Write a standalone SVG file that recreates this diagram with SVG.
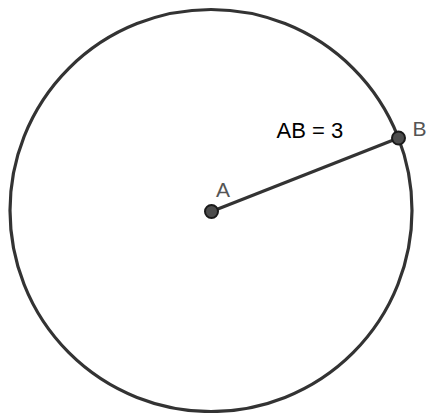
<svg xmlns="http://www.w3.org/2000/svg" width="428" height="413" viewBox="0 0 428 413">
<style>
.ln{stroke:#333;stroke-width:3.2;fill:none}
.pt{fill:#4d4d4d;stroke:#1a1a1a;stroke-width:2}
.lbl{font-family:"Liberation Sans",Arial,sans-serif;font-size:21px;fill:#555}
.val{font-family:"Liberation Sans",Arial,sans-serif;font-size:22px;fill:#000}
</style>
<rect width="428" height="413" fill="#fff"/>
<g id="circle"><circle class="ln" cx="211" cy="210.5" r="201"/></g>
<g id="connectors"><line class="ln" x1="211.5" y1="211.5" x2="398.5" y2="138"/></g>
<g id="A"><circle class="pt" cx="211.5" cy="211.5" r="6.5"/><text class="lbl" x="216" y="197">A</text></g>
<g id="B"><circle class="pt" cx="398.5" cy="138" r="6.5"/><text class="lbl" x="412.5" y="136">B</text></g>
<g id="label"><text class="val" x="276.5" y="138">AB = 3</text></g>
</svg>
